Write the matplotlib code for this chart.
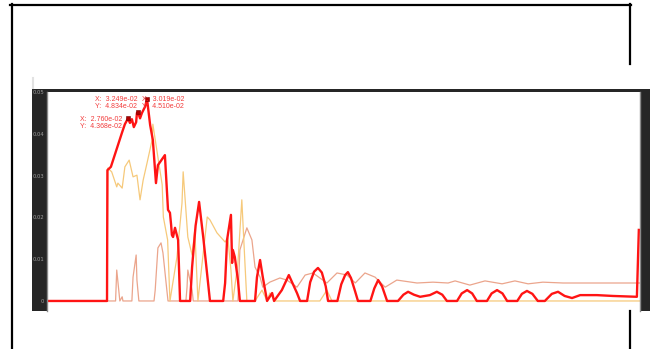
import matplotlib
matplotlib.use("Agg")
import matplotlib.pyplot as plt
from matplotlib.lines import Line2D
from matplotlib.patches import Rectangle

# thick red trace
red_t = [0.0068, 0.0222, 0.0223, 0.0232, 0.0261, 0.0268, 0.0276, 0.0281, 0.0286, 0.0291,
         0.0297, 0.0299, 0.0302, 0.0307, 0.0312, 0.0320, 0.0325, 0.0333, 0.0340, 0.0348,
         0.0353, 0.0371, 0.0379, 0.0384, 0.0387, 0.0389, 0.0392, 0.0397, 0.0405, 0.0410,
         0.0436, 0.0441, 0.0450, 0.0459, 0.0470, 0.0487, 0.0521, 0.0526, 0.0531, 0.0541,
         0.0544, 0.0546, 0.0551, 0.0559, 0.0564, 0.0603, 0.0608, 0.0616, 0.0623, 0.0634,
         0.0647, 0.0652, 0.0672, 0.0690, 0.0711, 0.0719, 0.0737, 0.0745, 0.0755, 0.0765,
         0.0775, 0.0785, 0.0791, 0.0815, 0.0825, 0.0835, 0.0842, 0.0850, 0.0860, 0.0868,
         0.0900, 0.0910, 0.0920, 0.0930, 0.0943, 0.0971, 0.0985, 0.0997, 0.1012, 0.1028,
         0.1053, 0.1071, 0.1085, 0.1097, 0.1123, 0.1135, 0.1149, 0.1162, 0.1174, 0.1200,
         0.1212, 0.1226, 0.1240, 0.1252, 0.1278, 0.1290, 0.1303, 0.1317, 0.1331, 0.1349,
         0.1367, 0.1383, 0.1400, 0.1419, 0.1440, 0.1483, 0.1524, 0.1586, 0.1591]
red_v = [0.0, 0.0, 0.0313, 0.0321, 0.0404, 0.0423, 0.04368, 0.0426, 0.0435, 0.0416,
         0.0428, 0.0450, 0.04510, 0.0437, 0.0450, 0.0465, 0.04834, 0.0421, 0.0385, 0.0282,
         0.0325, 0.0349, 0.0218, 0.0211, 0.0182, 0.0158, 0.0153, 0.0175, 0.0146, 0.0,
         0.0, 0.0081, 0.0180, 0.0237, 0.0150, 0.0, 0.0, 0.0043, 0.0146, 0.0206,
         0.0091, 0.0122, 0.0105, 0.0050, 0.0, 0.0, 0.0057, 0.0098, 0.0057, 0.0,
         0.0019, 0.0, 0.0026, 0.0062, 0.0019, 0.0, 0.0, 0.0045, 0.0070, 0.0079,
         0.0068, 0.0035, 0.0, 0.0, 0.0040, 0.0062, 0.0069, 0.0055, 0.0025, 0.0,
         0.0, 0.0030, 0.0050, 0.0035, 0.0, 0.0, 0.0015, 0.0022, 0.0015, 0.0010,
         0.0014, 0.0022, 0.0015, 0.0, 0.0, 0.0018, 0.0026, 0.0018, 0.0, 0.0,
         0.0018, 0.0026, 0.0018, 0.0, 0.0, 0.0017, 0.0024, 0.0017, 0.0, 0.0,
         0.0017, 0.0022, 0.0012, 0.0007, 0.0014, 0.0014, 0.0012, 0.0010, 0.0170]

# light orange trace
yel_t = [0.0068, 0.0222, 0.0224, 0.0234, 0.0247, 0.0250, 0.0261, 0.0268, 0.0279, 0.0289,
         0.0299, 0.0307, 0.0315, 0.0325, 0.0338, 0.0340, 0.0351, 0.0364, 0.0367, 0.0378,
         0.0384, 0.0402, 0.0415, 0.0418, 0.0430, 0.0441, 0.0448, 0.0456, 0.0480, 0.0487,
         0.0505, 0.0526, 0.0533, 0.0541, 0.0546, 0.0559, 0.0569, 0.0577, 0.0582, 0.0603,
         0.0621, 0.0634, 0.0641, 0.0654, 0.0667, 0.0770, 0.0788, 0.0801, 0.1594]
yel_v = [0.0, 0.0, 0.0318, 0.0309, 0.0273, 0.0282, 0.0270, 0.0321, 0.0337, 0.0297,
         0.0301, 0.0242, 0.0289, 0.0330, 0.0385, 0.0423, 0.0356, 0.0278, 0.0201, 0.0146,
         0.0, 0.0105, 0.0234, 0.0309, 0.0153, 0.0110, 0.0170, 0.0, 0.0201, 0.0194,
         0.0163, 0.0141, 0.0151, 0.0074, 0.0, 0.0091, 0.0242, 0.0091, 0.0, 0.0,
         0.0026, 0.0, 0.0019, 0.0, 0.0, 0.0, 0.0026, 0.0, 0.0]

# salmon trace
sal_t = [0.0068, 0.0244, 0.0247, 0.0255, 0.0261, 0.0263, 0.0286, 0.0289, 0.0297, 0.0299,
         0.0304, 0.0343, 0.0346, 0.0353, 0.0361, 0.0366, 0.0376, 0.0379, 0.0425, 0.0428,
         0.0430, 0.0441, 0.0444, 0.0559, 0.0564, 0.0582, 0.0595, 0.0603, 0.0616, 0.0623,
         0.0641, 0.0667, 0.0685, 0.0711, 0.0732, 0.0752, 0.0788, 0.0814, 0.0840, 0.0861,
         0.0886, 0.0912, 0.0938, 0.0968, 0.1020, 0.1061, 0.1100, 0.1118, 0.1156, 0.1195,
         0.1239, 0.1272, 0.1306, 0.1344, 0.1396, 0.1594]
sal_v = [0.0, 0.0, 0.0074, 0.0, 0.0010, 0.0, 0.0, 0.0057, 0.0110, 0.0050,
         0.0, 0.0, 0.0026, 0.0127, 0.0139, 0.0115, 0.0026, 0.0, 0.0, 0.0033,
         0.0074, 0.0026, 0.0, 0.0, 0.0122, 0.0175, 0.0146, 0.0081, 0.0057, 0.0033,
         0.0045, 0.0055, 0.0050, 0.0033, 0.0062, 0.0067, 0.0043, 0.0067, 0.0062, 0.0043,
         0.0067, 0.0057, 0.0033, 0.0050, 0.0043, 0.0045, 0.0043, 0.0048, 0.0038, 0.0048,
         0.0041, 0.0048, 0.0041, 0.0045, 0.0043, 0.0043]

# data tips on the red trace
tip_x = [0.02760, 0.03249, 0.03019]
tip_y = [0.04368, 0.04834, 0.04510]
tip_offsets = [(-48, -5), (-52, -4.5), (4, 9)]

y_ticks = [0, 0.01, 0.02, 0.03, 0.04, 0.05]
y_labels = ["0", "0.01", "0.02", "0.03", "0.04", "0.05"]

W, H = 654, 349


def fx(px):
    return px / W


def fy(py):
    return 1 - py / H


fig = plt.figure(figsize=(W / 100, H / 100), dpi=100)
fig.patch.set_facecolor("white")

# outer frame
for (x0, y0, x1, y1) in [(12, 4, 12, 349), (10, 4.5, 631, 4.5), (630, 4, 630, 64), (630, 311, 630, 349)]:
    fig.add_artist(Line2D([fx(x0), fx(x1)], [fy(y0), fy(y1)], color="black", lw=1.6))

# dark panel behind the axes
fig.add_artist(Rectangle((fx(32), fy(311)), fx(618), 222 / H, facecolor="#262626",
                         edgecolor="none", zorder=-1))
fig.add_artist(Line2D([fx(33), fx(33)], [fy(78), fy(88)], color="#e2e2e2", lw=1.5))

ax = fig.add_axes([fx(47), fy(311), fx(593), 219 / H])
ax.set_facecolor("white")
ax.plot(sal_t, sal_v, color="#eba58c", lw=0.9)
ax.plot(yel_t, yel_v, color="#f6c97a", lw=0.9)
ax.plot(red_t, red_v, color="#ff1414", lw=1.7)

ax.set_xlim(0.00675, 0.1594)
ax.set_ylim(-0.0024, 0.05)
ax.set_xticks([])
ax.set_yticks(y_ticks)
ax.set_yticklabels(y_labels)
ax.tick_params(axis="y", length=0, pad=2, labelsize=3.8, labelcolor="#9c9c9c")
for side in ["top", "bottom"]:
    ax.spines[side].set_visible(False)
for side in ["left", "right"]:
    ax.spines[side].set_color("#8a8a8a")
    ax.spines[side].set_linewidth(1.0)

for x, y, off in zip(tip_x, tip_y, tip_offsets):
    ax.plot([x], [y], marker="s", ms=2.2, color="#b00000", mec="#700000", mew=0.4)
    ax.annotate("X:  %.3e\nY:  %.3e" % (x, y), xy=(x, y), xytext=off,
                textcoords="offset pixels", ha="left", va="center",
                fontsize=5, color="#f23c3c", family="Liberation Sans", linespacing=1.0)

fig.savefig("out.png", dpi=100)
